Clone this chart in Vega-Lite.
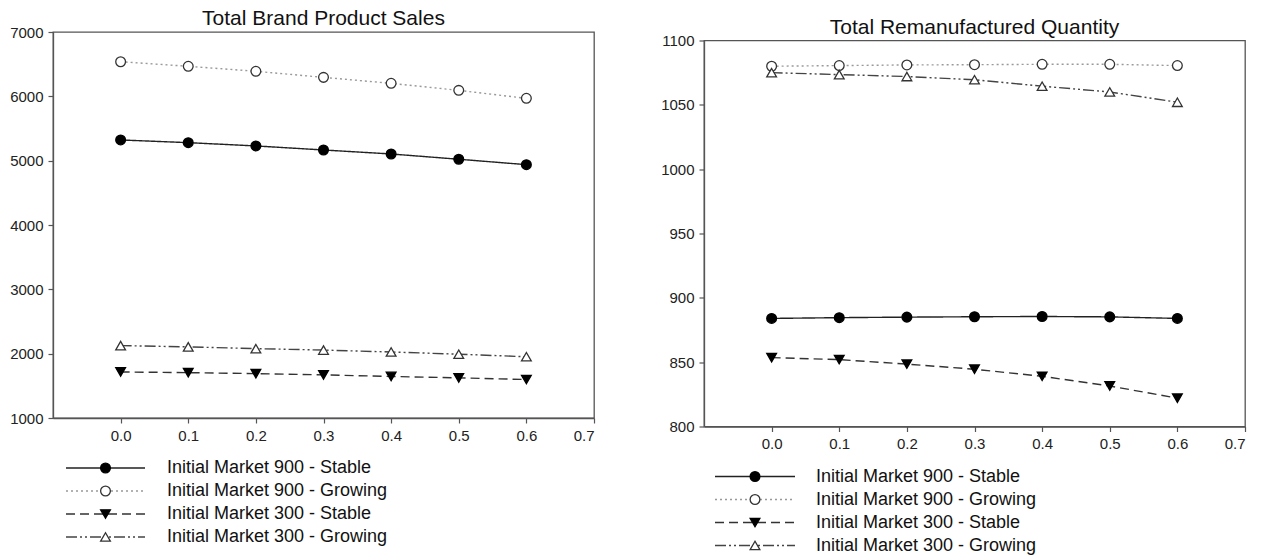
{
  "$schema": "https://vega.github.io/schema/vega-lite/v6.json",
  "background": "white",
  "padding": {"left": 8, "top": 6, "right": 4, "bottom": 2},
  "config": {
    "font": "Liberation Sans",
    "view": {"stroke": "#555", "strokeWidth": 1.3},
    "axis": {"grid": false, "domainColor": "#555", "domainWidth": 1.3, "tickColor": "#555", "tickWidth": 1.2, "tickSize": 5, "labelColor": "#222", "labelFont": "Liberation Sans", "labelFontSize": 15, "labelPadding": 5},
    "title": {"font": "Liberation Sans", "fontSize": 21, "fontWeight": "normal", "color": "#111", "anchor": "middle", "offset": -4},
    "concat": {"spacing": 63}
  },
  "datasets": {
    "sales": [
      {"r": 0.0, "s": "Initial Market 900 - Stable", "v": 5322},
      {"r": 0.1, "s": "Initial Market 900 - Stable", "v": 5280},
      {"r": 0.2, "s": "Initial Market 900 - Stable", "v": 5229},
      {"r": 0.3, "s": "Initial Market 900 - Stable", "v": 5166},
      {"r": 0.4, "s": "Initial Market 900 - Stable", "v": 5104},
      {"r": 0.5, "s": "Initial Market 900 - Stable", "v": 5022},
      {"r": 0.6, "s": "Initial Market 900 - Stable", "v": 4938},
      {"r": 0.0, "s": "Initial Market 900 - Growing", "v": 6538},
      {"r": 0.1, "s": "Initial Market 900 - Growing", "v": 6467},
      {"r": 0.2, "s": "Initial Market 900 - Growing", "v": 6389},
      {"r": 0.3, "s": "Initial Market 900 - Growing", "v": 6295},
      {"r": 0.4, "s": "Initial Market 900 - Growing", "v": 6202},
      {"r": 0.5, "s": "Initial Market 900 - Growing", "v": 6093},
      {"r": 0.6, "s": "Initial Market 900 - Growing", "v": 5969},
      {"r": 0.0, "s": "Initial Market 300 - Stable", "v": 1716},
      {"r": 0.1, "s": "Initial Market 300 - Stable", "v": 1705},
      {"r": 0.2, "s": "Initial Market 300 - Stable", "v": 1690},
      {"r": 0.3, "s": "Initial Market 300 - Stable", "v": 1670},
      {"r": 0.4, "s": "Initial Market 300 - Stable", "v": 1646},
      {"r": 0.5, "s": "Initial Market 300 - Stable", "v": 1624},
      {"r": 0.6, "s": "Initial Market 300 - Stable", "v": 1598},
      {"r": 0.0, "s": "Initial Market 300 - Growing", "v": 2125},
      {"r": 0.1, "s": "Initial Market 300 - Growing", "v": 2106},
      {"r": 0.2, "s": "Initial Market 300 - Growing", "v": 2078},
      {"r": 0.3, "s": "Initial Market 300 - Growing", "v": 2056},
      {"r": 0.4, "s": "Initial Market 300 - Growing", "v": 2026},
      {"r": 0.5, "s": "Initial Market 300 - Growing", "v": 1992},
      {"r": 0.6, "s": "Initial Market 300 - Growing", "v": 1952}
    ],
    "reman": [
      {"r": 0.0, "s": "Initial Market 900 - Stable", "v": 884.0},
      {"r": 0.1, "s": "Initial Market 900 - Stable", "v": 884.6},
      {"r": 0.2, "s": "Initial Market 900 - Stable", "v": 885.0},
      {"r": 0.3, "s": "Initial Market 900 - Stable", "v": 885.3},
      {"r": 0.4, "s": "Initial Market 900 - Stable", "v": 885.5},
      {"r": 0.5, "s": "Initial Market 900 - Stable", "v": 885.2},
      {"r": 0.6, "s": "Initial Market 900 - Stable", "v": 884.0},
      {"r": 0.0, "s": "Initial Market 900 - Growing", "v": 1080.0},
      {"r": 0.1, "s": "Initial Market 900 - Growing", "v": 1080.5},
      {"r": 0.2, "s": "Initial Market 900 - Growing", "v": 1081.0},
      {"r": 0.3, "s": "Initial Market 900 - Growing", "v": 1081.2},
      {"r": 0.4, "s": "Initial Market 900 - Growing", "v": 1081.5},
      {"r": 0.5, "s": "Initial Market 900 - Growing", "v": 1081.5},
      {"r": 0.6, "s": "Initial Market 900 - Growing", "v": 1080.5},
      {"r": 0.0, "s": "Initial Market 300 - Stable", "v": 853.5},
      {"r": 0.1, "s": "Initial Market 300 - Stable", "v": 852.0},
      {"r": 0.2, "s": "Initial Market 300 - Stable", "v": 848.5},
      {"r": 0.3, "s": "Initial Market 300 - Stable", "v": 844.5},
      {"r": 0.4, "s": "Initial Market 300 - Stable", "v": 839.0},
      {"r": 0.5, "s": "Initial Market 300 - Stable", "v": 831.5},
      {"r": 0.6, "s": "Initial Market 300 - Stable", "v": 822.0},
      {"r": 0.0, "s": "Initial Market 300 - Growing", "v": 1075.0},
      {"r": 0.1, "s": "Initial Market 300 - Growing", "v": 1073.5},
      {"r": 0.2, "s": "Initial Market 300 - Growing", "v": 1072.0},
      {"r": 0.3, "s": "Initial Market 300 - Growing", "v": 1069.5},
      {"r": 0.4, "s": "Initial Market 300 - Growing", "v": 1064.5},
      {"r": 0.5, "s": "Initial Market 300 - Growing", "v": 1060.0},
      {"r": 0.6, "s": "Initial Market 300 - Growing", "v": 1052.0}
    ],
    "series": [
      {"s": "Initial Market 900 - Stable"},
      {"s": "Initial Market 900 - Growing"},
      {"s": "Initial Market 300 - Stable"},
      {"s": "Initial Market 300 - Growing"}
    ]
  },
  "hconcat": [
    {
      "spacing": 0,
      "vconcat": [
        {
          "width": 1,
          "height": 1,
          "view": {"stroke": null},
          "data": {"values": []},
          "mark": "point"
        },
        {
          "spacing": 12.5,
          "vconcat": [
            {
              "width": 541,
              "height": 386,
              "title": "Total Brand Product Sales",
              "data": {"name": "sales"},
              "encoding": {
                "x": {"field": "r", "type": "quantitative", "title": null,
                      "scale": {"domain": [-0.1, 0.7], "nice": false, "zero": false},
                      "axis": {"values": [0, 0.1, 0.2, 0.3, 0.4, 0.5, 0.6, 0.7], "format": ".1f"}},
                "y": {"field": "v", "type": "quantitative", "title": null,
                      "scale": {"domain": [1000, 7000], "nice": false, "zero": false},
                      "axis": {"values": [1000, 2000, 3000, 4000, 5000, 6000, 7000], "format": "d"}}
              },
              "layer": [
                {
                  "mark": {"type": "line", "strokeWidth": 1.4},
                  "encoding": {
                    "detail": {"field": "s", "type": "nominal"},
                    "color": {"field": "s", "type": "nominal", "legend": null,
                              "scale": {"domain": ["Initial Market 900 - Stable", "Initial Market 900 - Growing", "Initial Market 300 - Stable", "Initial Market 300 - Growing"], "range": ["#222222", "#999999", "#333333", "#444444"]}},
                    "strokeDash": {"field": "s", "type": "nominal", "legend": null,
                              "scale": {"domain": ["Initial Market 900 - Stable", "Initial Market 900 - Growing", "Initial Market 300 - Stable", "Initial Market 300 - Growing"], "range": [[1, 0], [2, 3], [9, 5], [11, 3, 2, 3, 2, 3]]}}
                  }
                },
                {
                  "mark": {"type": "point", "filled": true, "opacity": 1, "strokeWidth": 1.3, "size": 95},
                  "encoding": {
                    "shape": {"field": "s", "type": "nominal", "legend": null,
                              "scale": {"domain": ["Initial Market 900 - Stable", "Initial Market 900 - Growing", "Initial Market 300 - Stable", "Initial Market 300 - Growing"], "range": ["circle", "circle", "triangle-down", "triangle-up"]}},
                    "fill": {"field": "s", "type": "nominal", "legend": null,
                              "scale": {"domain": ["Initial Market 900 - Stable", "Initial Market 900 - Growing", "Initial Market 300 - Stable", "Initial Market 300 - Growing"], "range": ["#000000", "#ffffff", "#000000", "#ffffff"]}},
                    "stroke": {"field": "s", "type": "nominal", "legend": null,
                              "scale": {"domain": ["Initial Market 900 - Stable", "Initial Market 900 - Growing", "Initial Market 300 - Stable", "Initial Market 300 - Growing"], "range": ["#000000", "#333333", "#000000", "#333333"]}}
                  }
                }
              ]
            },
            {
              "width": 380,
              "height": 92,
              "view": {"stroke": null},
              "data": {"name": "series"},
              "encoding": {
                "y": {"field": "s", "type": "nominal", "axis": null,
                      "sort": ["Initial Market 900 - Stable", "Initial Market 900 - Growing", "Initial Market 300 - Stable", "Initial Market 300 - Growing"],
                      "scale": {"type": "point", "padding": 0.5}}
              },
              "layer": [
                {
                  "mark": {"type": "rule", "strokeWidth": 1.4},
                  "encoding": {
                    "x": {"datum": 0, "type": "quantitative", "axis": null, "scale": {"domain": [0, 1], "range": [13, 92], "nice": false, "zero": false}},
                    "x2": {"datum": 1},
                    "color": {"field": "s", "type": "nominal", "legend": null,
                              "scale": {"domain": ["Initial Market 900 - Stable", "Initial Market 900 - Growing", "Initial Market 300 - Stable", "Initial Market 300 - Growing"], "range": ["#222222", "#999999", "#333333", "#444444"]}},
                    "strokeDash": {"field": "s", "type": "nominal", "legend": null,
                              "scale": {"domain": ["Initial Market 900 - Stable", "Initial Market 900 - Growing", "Initial Market 300 - Stable", "Initial Market 300 - Growing"], "range": [[1, 0], [2, 3], [9, 5], [11, 3, 2, 3, 2, 3]]}}
                  }
                },
                {
                  "mark": {"type": "point", "filled": true, "opacity": 1, "strokeWidth": 1.3, "size": 95},
                  "encoding": {
                    "x": {"datum": 0.5, "type": "quantitative"},
                    "shape": {"field": "s", "type": "nominal", "legend": null,
                              "scale": {"domain": ["Initial Market 900 - Stable", "Initial Market 900 - Growing", "Initial Market 300 - Stable", "Initial Market 300 - Growing"], "range": ["circle", "circle", "triangle-down", "triangle-up"]}},
                    "fill": {"field": "s", "type": "nominal", "legend": null,
                              "scale": {"domain": ["Initial Market 900 - Stable", "Initial Market 900 - Growing", "Initial Market 300 - Stable", "Initial Market 300 - Growing"], "range": ["#000000", "#ffffff", "#000000", "#ffffff"]}},
                    "stroke": {"field": "s", "type": "nominal", "legend": null,
                              "scale": {"domain": ["Initial Market 900 - Stable", "Initial Market 900 - Growing", "Initial Market 300 - Stable", "Initial Market 300 - Growing"], "range": ["#000000", "#333333", "#000000", "#333333"]}}
                  }
                },
                {
                  "mark": {"type": "text", "align": "left", "baseline": "middle", "dx": 22, "fontSize": 18, "color": "#111"},
                  "encoding": {
                    "x": {"datum": 1, "type": "quantitative"},
                    "text": {"field": "s", "type": "nominal"}
                  }
                }
              ]
            }
          ]
        }
      ]
    },
    {
      "spacing": 8.5,
      "vconcat": [
        {
          "width": 1,
          "height": 1,
          "view": {"stroke": null},
          "data": {"values": []},
          "mark": "point"
        },
        {
          "spacing": 12.5,
          "vconcat": [
            {
              "width": 541,
              "height": 386,
              "title": "Total Remanufactured Quantity",
              "data": {"name": "reman"},
              "encoding": {
                "x": {"field": "r", "type": "quantitative", "title": null,
                      "scale": {"domain": [-0.1, 0.7], "nice": false, "zero": false},
                      "axis": {"values": [0, 0.1, 0.2, 0.3, 0.4, 0.5, 0.6, 0.7], "format": ".1f"}},
                "y": {"field": "v", "type": "quantitative", "title": null,
                      "scale": {"domain": [800, 1100], "nice": false, "zero": false},
                      "axis": {"values": [800, 850, 900, 950, 1000, 1050, 1100], "format": "d"}}
              },
              "layer": [
                {
                  "mark": {"type": "line", "strokeWidth": 1.4},
                  "encoding": {
                    "detail": {"field": "s", "type": "nominal"},
                    "color": {"field": "s", "type": "nominal", "legend": null,
                              "scale": {"domain": ["Initial Market 900 - Stable", "Initial Market 900 - Growing", "Initial Market 300 - Stable", "Initial Market 300 - Growing"], "range": ["#222222", "#999999", "#333333", "#444444"]}},
                    "strokeDash": {"field": "s", "type": "nominal", "legend": null,
                              "scale": {"domain": ["Initial Market 900 - Stable", "Initial Market 900 - Growing", "Initial Market 300 - Stable", "Initial Market 300 - Growing"], "range": [[1, 0], [2, 3], [9, 5], [11, 3, 2, 3, 2, 3]]}}
                  }
                },
                {
                  "mark": {"type": "point", "filled": true, "opacity": 1, "strokeWidth": 1.3, "size": 95},
                  "encoding": {
                    "shape": {"field": "s", "type": "nominal", "legend": null,
                              "scale": {"domain": ["Initial Market 900 - Stable", "Initial Market 900 - Growing", "Initial Market 300 - Stable", "Initial Market 300 - Growing"], "range": ["circle", "circle", "triangle-down", "triangle-up"]}},
                    "fill": {"field": "s", "type": "nominal", "legend": null,
                              "scale": {"domain": ["Initial Market 900 - Stable", "Initial Market 900 - Growing", "Initial Market 300 - Stable", "Initial Market 300 - Growing"], "range": ["#000000", "#ffffff", "#000000", "#ffffff"]}},
                    "stroke": {"field": "s", "type": "nominal", "legend": null,
                              "scale": {"domain": ["Initial Market 900 - Stable", "Initial Market 900 - Growing", "Initial Market 300 - Stable", "Initial Market 300 - Growing"], "range": ["#000000", "#333333", "#000000", "#333333"]}}
                  }
                }
              ]
            },
            {
              "width": 380,
              "height": 92,
              "view": {"stroke": null},
              "data": {"name": "series"},
              "encoding": {
                "y": {"field": "s", "type": "nominal", "axis": null,
                      "sort": ["Initial Market 900 - Stable", "Initial Market 900 - Growing", "Initial Market 300 - Stable", "Initial Market 300 - Growing"],
                      "scale": {"type": "point", "padding": 0.5}}
              },
              "layer": [
                {
                  "mark": {"type": "rule", "strokeWidth": 1.4},
                  "encoding": {
                    "x": {"datum": 0, "type": "quantitative", "axis": null, "scale": {"domain": [0, 1], "range": [11, 91], "nice": false, "zero": false}},
                    "x2": {"datum": 1},
                    "color": {"field": "s", "type": "nominal", "legend": null,
                              "scale": {"domain": ["Initial Market 900 - Stable", "Initial Market 900 - Growing", "Initial Market 300 - Stable", "Initial Market 300 - Growing"], "range": ["#222222", "#999999", "#333333", "#444444"]}},
                    "strokeDash": {"field": "s", "type": "nominal", "legend": null,
                              "scale": {"domain": ["Initial Market 900 - Stable", "Initial Market 900 - Growing", "Initial Market 300 - Stable", "Initial Market 300 - Growing"], "range": [[1, 0], [2, 3], [9, 5], [11, 3, 2, 3, 2, 3]]}}
                  }
                },
                {
                  "mark": {"type": "point", "filled": true, "opacity": 1, "strokeWidth": 1.3, "size": 95},
                  "encoding": {
                    "x": {"datum": 0.5, "type": "quantitative"},
                    "shape": {"field": "s", "type": "nominal", "legend": null,
                              "scale": {"domain": ["Initial Market 900 - Stable", "Initial Market 900 - Growing", "Initial Market 300 - Stable", "Initial Market 300 - Growing"], "range": ["circle", "circle", "triangle-down", "triangle-up"]}},
                    "fill": {"field": "s", "type": "nominal", "legend": null,
                              "scale": {"domain": ["Initial Market 900 - Stable", "Initial Market 900 - Growing", "Initial Market 300 - Stable", "Initial Market 300 - Growing"], "range": ["#000000", "#ffffff", "#000000", "#ffffff"]}},
                    "stroke": {"field": "s", "type": "nominal", "legend": null,
                              "scale": {"domain": ["Initial Market 900 - Stable", "Initial Market 900 - Growing", "Initial Market 300 - Stable", "Initial Market 300 - Growing"], "range": ["#000000", "#333333", "#000000", "#333333"]}}
                  }
                },
                {
                  "mark": {"type": "text", "align": "left", "baseline": "middle", "dx": 21, "fontSize": 18, "color": "#111"},
                  "encoding": {
                    "x": {"datum": 1, "type": "quantitative"},
                    "text": {"field": "s", "type": "nominal"}
                  }
                }
              ]
            }
          ]
        }
      ]
    }
  ]
}
